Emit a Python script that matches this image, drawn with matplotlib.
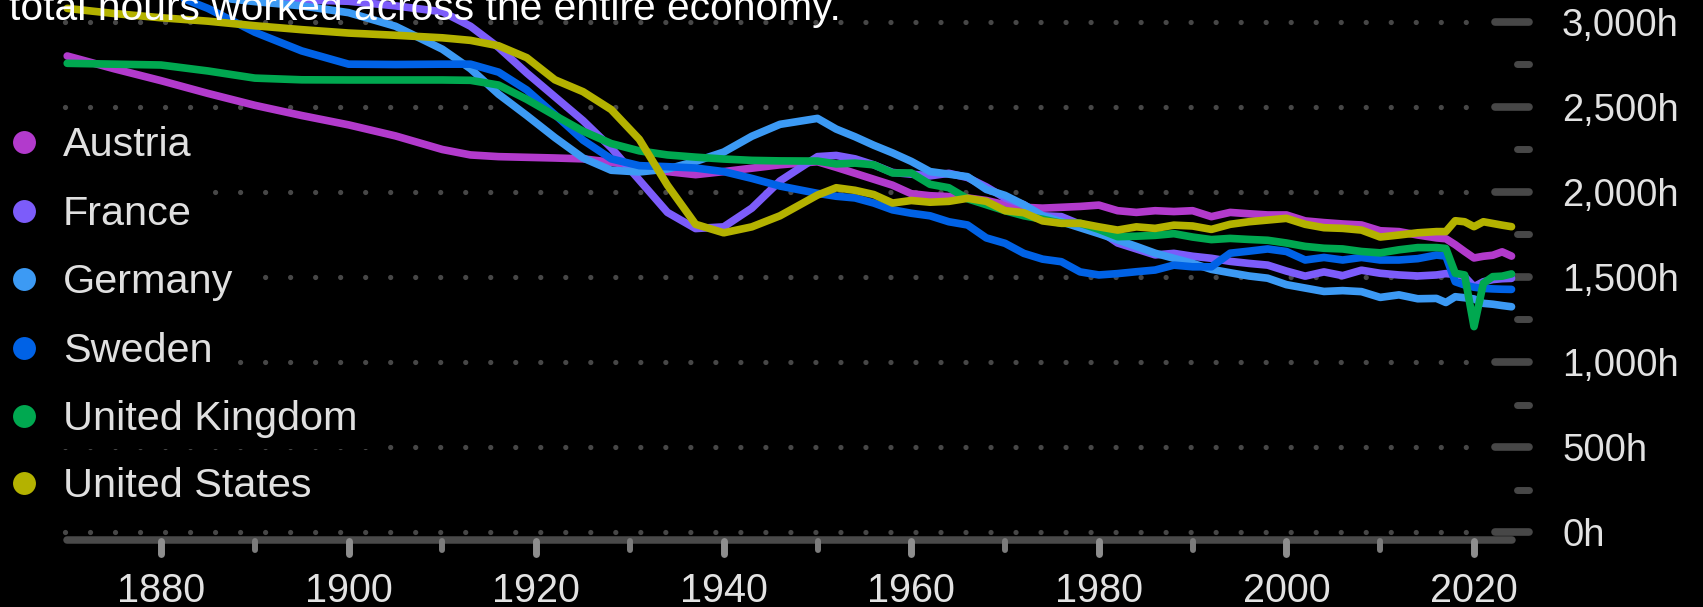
import matplotlib
matplotlib.use("Agg")
import matplotlib.pyplot as plt

plt.rcParams['font.family'] = ['Liberation Sans', 'DejaVu Sans']
plt.rcParams['lines.scale_dashes'] = False

# ---------------- data ----------------
years = [1870, 1875, 1880, 1885, 1890, 1895, 1900, 1905, 1910, 1913, 1916, 1919,
         1922, 1925, 1928, 1931, 1934, 1937, 1940, 1943, 1946, 1950,
         1952, 1954, 1956, 1958, 1960, 1962, 1964, 1966, 1968, 1970, 1972, 1974,
         1976, 1978, 1980, 1982, 1984, 1986, 1988, 1990, 1992, 1994, 1996, 1998,
         2000, 2002, 2004, 2006, 2008, 2010, 2012, 2014,
         2016, 2017, 2018, 2019, 2020, 2021, 2022, 2023, 2024]

austria = [2800, 2725, 2655, 2580, 2510, 2450, 2395, 2330, 2250, 2218, 2208, 2204,
           2200, 2195, 2175, 2150, 2120, 2102, 2120, 2140, 2160, 2178,
           2145, 2110, 2075, 2040, 1990, 1978, 1973, 1965, 1950, 1925, 1910, 1905,
           1910, 1915, 1923, 1890, 1880, 1890, 1885, 1890, 1855, 1880, 1872, 1865,
           1865, 1830, 1820, 1812, 1806, 1772, 1767, 1747,
           1730, 1725, 1690, 1650, 1612, 1622, 1628, 1648, 1623]

france = [3170, 3165, 3160, 3155, 3145, 3130, 3122, 3095, 3060, 2975, 2850, 2700,
          2560, 2420, 2260, 2070, 1880, 1785, 1795, 1905, 2065, 2208,
          2215, 2195, 2160, 2115, 2105, 2095, 2110, 2085, 2030, 1965, 1925, 1860,
          1855, 1810, 1775, 1700, 1665, 1630, 1639, 1622, 1610, 1592, 1580, 1570,
          1535, 1505, 1530, 1508, 1540, 1522, 1512, 1506,
          1512, 1520, 1515, 1502, 1443, 1472, 1485, 1490, 1492]

germany = [3200, 3190, 3175, 3150, 3120, 3095, 3055, 2975, 2840, 2725, 2575, 2450,
           2320, 2200, 2128, 2118, 2135, 2180, 2235, 2328, 2398, 2433,
           2370, 2325, 2275, 2230, 2180, 2120, 2105, 2090, 2015, 1980, 1925, 1860,
           1825, 1790, 1755, 1718, 1680, 1640, 1610, 1580, 1545, 1525, 1506, 1493,
           1455, 1435, 1415, 1420, 1414, 1380, 1395, 1372,
           1374, 1350, 1384, 1378, 1371, 1345, 1340, 1332, 1325]

sweden = [3400, 3300, 3190, 3080, 2940, 2830, 2752, 2750, 2752, 2752, 2705, 2600,
          2455, 2305, 2195, 2155, 2149, 2141, 2120, 2080, 2035, 1992,
          1975, 1965, 1935, 1895, 1875, 1860, 1825, 1806, 1730, 1698, 1639, 1605,
          1590, 1530, 1512, 1520, 1531, 1541, 1570, 1560, 1560, 1640, 1652, 1665,
          1650, 1600, 1615, 1600, 1615, 1600, 1600, 1608,
          1629, 1623, 1472, 1453, 1440, 1433, 1430, 1428, 1427]

uk = [2757, 2752, 2747, 2712, 2670, 2660, 2659, 2659, 2659, 2657, 2629, 2545,
      2450, 2358, 2285, 2242, 2218, 2205, 2194, 2186, 2183, 2182,
      2165, 2170, 2160, 2112, 2112, 2045, 2025, 1960, 1925, 1890, 1860, 1840,
      1816, 1816, 1780, 1737, 1740, 1745, 1755, 1735, 1720, 1727, 1721, 1716,
      1700, 1680, 1669, 1665, 1650, 1642, 1660, 1673,
      1673, 1668, 1522, 1512, 1208, 1463, 1502, 1505, 1518]

us = [3080, 3050, 3025, 3005, 2978, 2955, 2935, 2922, 2907, 2892, 2860, 2790,
      2660, 2590, 2485, 2310, 2040, 1810, 1760, 1795, 1860, 1982,
      2025, 2010, 1985, 1935, 1950, 1940, 1945, 1963, 1945, 1890, 1878, 1830,
      1816, 1816, 1795, 1776, 1795, 1786, 1805, 1800, 1780, 1810, 1825, 1835,
      1845, 1810, 1790, 1786, 1776, 1735, 1747, 1760,
      1767, 1767, 1831, 1825, 1796, 1825, 1815, 1805, 1796]

countries = ["Austria", "France", "Germany", "Sweden", "United Kingdom", "United States"]
series = [austria, france, germany, sweden, uk, us]
colors = ["#B23ACC", "#7C5CFA", "#3C9AF4", "#0062E6", "#00A850", "#B4B200"]

y_ticks = [0, 500, 1000, 1500, 2000, 2500, 3000]
y_minor = [250, 750, 1250, 1750, 2250, 2750]
x_major = [1880, 1900, 1920, 1940, 1960, 1980, 2000, 2020]
x_minor = [1890, 1910, 1930, 1950, 1970, 1990, 2010]
title_text = "total hours worked across the entire economy."

# ---------------- layout (pixel -> data mapping) ----------------
W, H = 1703, 607
X1880, X2020 = 161.0, 1474.0
PPY = (X2020 - X1880) / 140.0          # px per year
Y0, PPH = 532.0, 0.17                   # y pixel of 0h, px per hour

def px2x(px):
    return 1880 + (px - X1880) / PPY

def px2y(py):
    return (Y0 - py) / PPH

fig = plt.figure(figsize=(W / 100, H / 100), dpi=100, facecolor="black")
ax = fig.add_axes([0, 0, 1, 1])
ax.set_facecolor("black")
ax.set_xlim(px2x(0), px2x(W))
ax.set_ylim(px2y(H), px2y(0))
ax.axis("off")

grid_col = "#474747"
# dotted gridlines
for v in y_ticks:
    ax.plot([px2x(65), px2x(1470)], [v, v], color=grid_col, lw=3.8,
            linestyle=(0, (0.01, 18.0)), dash_capstyle="round", zorder=1)
# right-side dashes
for v in y_ticks:
    ax.plot([px2x(1495), px2x(1529)], [v, v], color=grid_col, lw=5.5,
            solid_capstyle="round", zorder=1)
for v in y_minor:
    ax.plot([px2x(1517), px2x(1529)], [v, v], color=grid_col, lw=5.0,
            solid_capstyle="round", zorder=1)
# y labels
for v in y_ticks:
    ax.text(px2x(1562), px2y(Y0 - v * PPH + 14), f"{v:,}h", color="#e2e2e2",
            fontsize=27.5, ha="left", va="baseline", zorder=5)

# x-axis bar and ticks
ax.plot([1870, 2024], [px2y(540)] * 2, color="#4a4a4a", lw=5.4,
        solid_capstyle="round", zorder=2)
for yr in x_major:
    ax.plot([yr, yr], [px2y(541), px2y(553.5)], color="#8e8e8e", lw=5.0,
            solid_capstyle="round", zorder=3)
    ax.text(yr, px2y(602), str(yr), color="#e2e2e2", fontsize=28.5,
            ha="center", va="baseline", zorder=5)
for yr in x_minor:
    ax.plot([yr, yr], [px2y(541), px2y(550)], color="#7c7c7c", lw=4.3,
            solid_capstyle="round", zorder=3)

# data lines
for vals, c in zip(series, colors):
    ax.plot(years, vals, color=c, lw=5.5, solid_joinstyle="round",
            solid_capstyle="round", zorder=4)

# legend
row_y = [142.5, 211, 279, 347.5, 416, 483]
for name, c, ry in zip(countries, colors, row_y):
    ax.plot([px2x(24)], [px2y(ry)], marker="o", ms=16.5, color=c, mec="none",
            zorder=6)
    ax.text(px2x(63), px2y(ry + 14), name, color="#e0e0e0", fontsize=29.8,
            ha="left", va="baseline", zorder=6,
            bbox=dict(boxstyle="square,pad=0.27", fc="black", ec="none"))

# clipped title text at top
ax.text(px2x(9), px2y(20.5), title_text, color="white", fontsize=29.3,
        ha="left", va="baseline", zorder=7)

fig.savefig("out.png", dpi=100, facecolor="black")
